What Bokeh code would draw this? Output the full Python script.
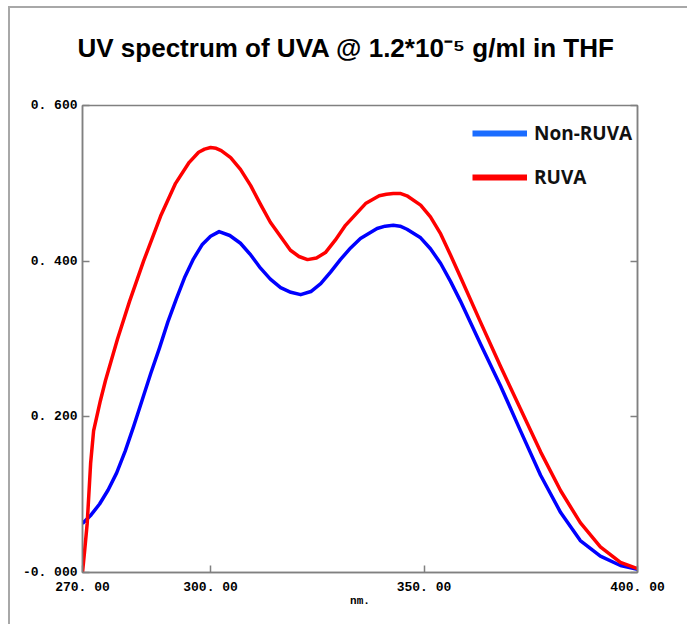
from bokeh.plotting import figure
from bokeh.models import (Range1d, LinearAxis, FixedTicker, CustomJSTickFormatter,
                          Legend, LegendItem, Title)
from bokeh.embed import file_html
from bokeh.resources import INLINE

# ---------------- data ----------------
title_text = "UV spectrum of UVA @ 1.2*10\u207b\u2075 g/ml in THF"
series_names = ["Non-RUVA", "RUVA"]

wl_non = [270, 272, 274, 276, 278, 280, 282, 284, 286, 288, 290, 292, 294, 296, 298, 300,
          302, 304.5, 307, 309.4, 311.7, 314, 316.4, 318.8, 321.1, 323.5, 325.8, 328.1,
          330.4, 332.8, 335.1, 339, 340.9, 342.8, 344.4, 346, 349.2, 351.5, 353.9, 356.2,
          358.5, 363.2, 367.9, 372.6, 377.3, 382, 386.6, 391.3, 396, 400]
abs_non = [0.063, 0.074, 0.088, 0.106, 0.128, 0.156, 0.188, 0.222, 0.256, 0.288, 0.322, 0.352,
           0.380, 0.403, 0.421, 0.432, 0.438, 0.433, 0.423, 0.408, 0.391, 0.377, 0.366, 0.360,
           0.357, 0.361, 0.371, 0.386, 0.402, 0.417, 0.429, 0.442, 0.445, 0.446, 0.445, 0.441,
           0.430, 0.416, 0.397, 0.374, 0.349, 0.294, 0.240, 0.182, 0.125, 0.077, 0.041, 0.021,
           0.009, 0.004]

wl_ruva = [270, 270.5, 271.1, 271.9, 272.6, 274.2, 275.4, 278.2, 281, 284.3, 288.3, 291.8,
           295, 297.2, 298.6, 300, 301.3, 302.5, 304.7, 307, 309.4, 311.7, 314, 318.7, 320.7,
           322.7, 324.8, 326.9, 329.2, 331.6, 336.3, 339.5, 341.2, 342.8, 344.4, 346, 349.2,
           351.5, 353.9, 356.2, 358.5, 363.2, 367.9, 372.6, 377.3, 382, 386.6, 391.3, 396, 400]
abs_ruva = [0.0, 0.028, 0.063, 0.140, 0.182, 0.221, 0.247, 0.300, 0.348, 0.400, 0.458, 0.500,
            0.527, 0.540, 0.544, 0.546, 0.545, 0.542, 0.533, 0.518, 0.497, 0.473, 0.450, 0.414,
            0.406, 0.402, 0.404, 0.411, 0.427, 0.446, 0.474, 0.484, 0.486, 0.487, 0.487, 0.484,
            0.472, 0.457, 0.435, 0.408, 0.380, 0.322, 0.265, 0.210, 0.155, 0.105, 0.064, 0.033,
            0.013, 0.005]

x_ticks = [270, 300, 350, 400]
x_tick_labels = ["270. 00", "300. 00", "350. 00", "400. 00"]
y_ticks = [0, 0.2, 0.4, 0.6]
y_tick_labels = ["-0. 000", "0. 200", "0. 400", "0. 600"]
x_label = "nm."
legend_proxy = [float("nan")]

# ---------------- figure ----------------
W, H = 679, 618
GREY = "#808080"

p = figure(width=W, height=H, output_backend="svg", toolbar_location=None, title=None,
           x_range=Range1d(270, 400), y_range=Range1d(0, 0.6),
           min_border_left=72, min_border_right=52, min_border_top=97, min_border_bottom=54)
p.styles = {"margin-left": "8px", "margin-top": "6px",
            "border-top": "2px solid #a8a8a8", "border-left": "2px solid #a8a8a8"}
p.grid.visible = False
p.outline_line_color = GREY
p.outline_line_width = 1.5
p.background_fill_color = "white"
p.border_fill_color = "white"

# spacer between frame and title, then the title itself (stacked outward)
p.add_layout(Title(text=" ", text_font_size="1px", standoff=40), "above")
p.add_layout(Title(text=title_text, align="left", offset=-5, standoff=0,
                   text_font="Liberation Sans", text_font_style="bold",
                   text_font_size="26px", text_color="black"), "above")

fmt_code = """
let best = 0;
for (let i = 0; i < tv.length; i++) {
  if (Math.abs(tv[i] - tick) < Math.abs(tv[best] - tick)) best = i;
}
return lv[best];
"""

xa = p.xaxis[0]
xa.ticker = FixedTicker(ticks=x_ticks)
xa.formatter = CustomJSTickFormatter(args=dict(tv=x_ticks, lv=x_tick_labels), code=fmt_code)
xa.axis_label = x_label
ya = p.yaxis[0]
ya.ticker = FixedTicker(ticks=y_ticks)
ya.formatter = CustomJSTickFormatter(args=dict(tv=y_ticks, lv=y_tick_labels), code=fmt_code)

for ax in (xa, ya):
    ax.axis_line_color = GREY
    ax.axis_line_width = 1.5
    ax.major_tick_line_color = GREY
    ax.major_tick_line_width = 1.5
    ax.major_tick_in = 7
    ax.major_tick_out = 0
    ax.minor_tick_line_color = None
    ax.major_label_text_font = "Liberation Mono"
    ax.major_label_text_font_style = "bold"
    ax.major_label_text_font_size = "13px"
    ax.major_label_text_color = "black"

xa.major_label_standoff = 7
xa.axis_label_standoff = -3
xa.axis_label_text_font = "Liberation Mono"
xa.axis_label_text_font_style = "bold"
xa.axis_label_text_font_size = "11px"
xa.axis_label_text_color = "black"
ya.major_label_standoff = 5

ra = LinearAxis(ticker=FixedTicker(ticks=y_ticks),
                formatter=CustomJSTickFormatter(code="return '';"))
ra.axis_line_color = GREY
ra.axis_line_width = 1.5
ra.major_tick_line_color = GREY
ra.major_tick_line_width = 1.5
ra.major_tick_in = 7
ra.major_tick_out = 0
ra.minor_tick_line_color = None
p.add_layout(ra, "right")

# curves
p.line(wl_non, abs_non, line_color="#0000ff", line_width=3.5, line_join="round")
p.line(wl_ruva, abs_ruva, line_color="#ff0000", line_width=3.5, line_join="round")

# legend (proxy renderers carry the legend's thicker line style)
leg_non = p.line(legend_proxy, legend_proxy, line_color="#1a6cff", line_width=6)
leg_ruva = p.line(legend_proxy, legend_proxy, line_color="#ff0000", line_width=6)
legend = Legend(items=[LegendItem(label=series_names[0], renderers=[leg_non]),
                       LegendItem(label=series_names[1], renderers=[leg_ruva])],
                location=(390, 382), glyph_width=55, glyph_height=26, label_height=26,
                label_standoff=7, spacing=18, padding=0, margin=0,
                border_line_color=None, background_fill_alpha=0,
                label_text_font="Open Sans", label_text_font_style="bold",
                label_text_font_size="19px", label_text_color="#111111")
p.add_layout(legend)

open("out.html", "w").write(file_html(p, INLINE))
